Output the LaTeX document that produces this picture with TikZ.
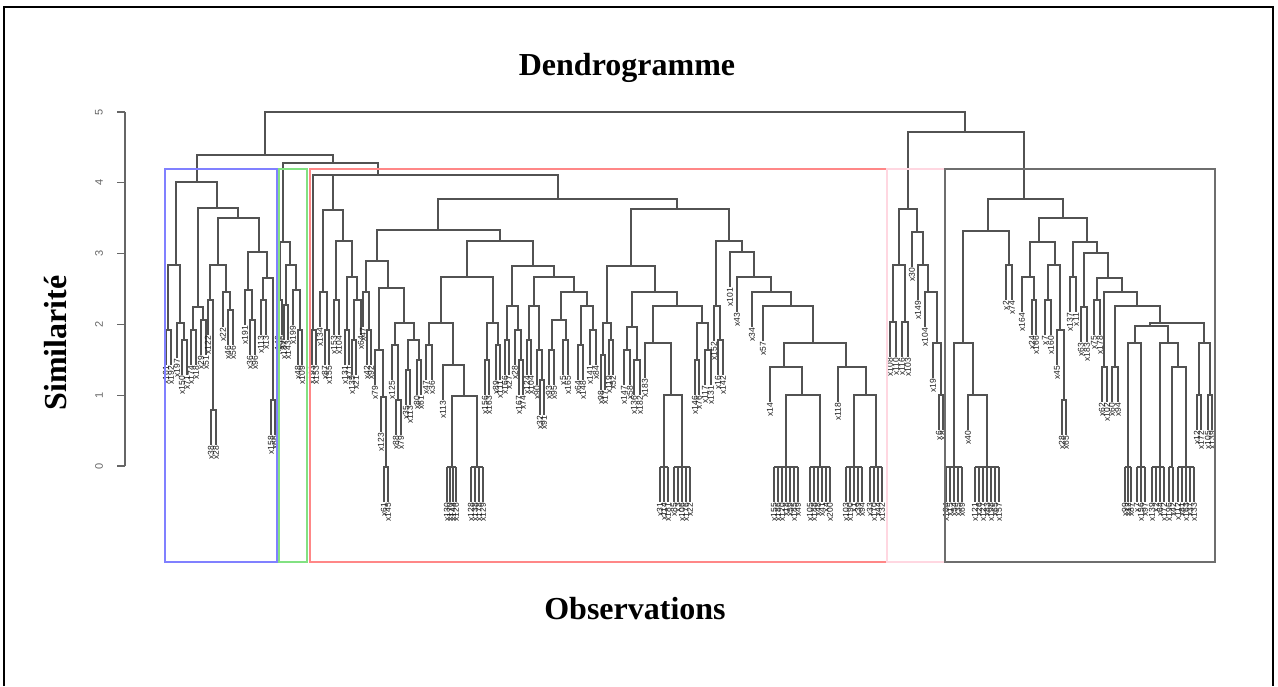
\documentclass[tikz,border=0pt]{standalone}
\usepackage{fontspec}
\setmainfont{Liberation Serif}
\newfontfamily\lsans{Liberation Sans}
\tikzset{
  dl/.style={draw=black!68,line width=1.05pt},
  lab/.style={rotate=90,anchor=east,font=\lsans\fontsize{8.5}{8.5}\selectfont,inner sep=0.6pt,text=black!90},
  ax/.style={draw=black!60,line width=1.1pt},
  axlab/.style={rotate=90,font=\lsans\fontsize{11}{11}\selectfont,text=black!60},
  ttl/.style={font=\bfseries\fontsize{32}{36}\selectfont},
  bx/.style={line width=1.8pt}
}
% xl yl xr yr y
\newcommand{\dU}[5]{\draw[dl] (#1,#2) -- (#1,#5) -- (#3,#5) -- (#3,#4);}
% xl xr y labl labr
\newcommand{\dLL}[5]{\draw[dl] (#1,#3+35) node[lab]{#4} -- (#1,#3) -- (#2,#3) -- (#2,#3+35) node[lab]{#5};}
% xl(leaf) xr(internal) yr y lab
\newcommand{\dLN}[5]{\draw[dl] (#1,#4+35) node[lab]{#5} -- (#1,#4) -- (#2,#4) -- (#2,#3);}
% xl yl xr(leaf) y lab
\newcommand{\dNL}[5]{\draw[dl] (#1,#2) -- (#1,#4) -- (#3,#4) -- (#3,#4+35) node[lab]{#5};}
% vertical x y1 y2
\newcommand{\dV}[3]{\draw[dl] (#1,#2) -- (#1,#3);}
% group of leaves at height 0: xmin xmax list x/label
\newcommand{\dZ}[3]{\draw[dl] (#1,467) -- (#2,467);
  \foreach \gx/\gl in {#3} {\draw[dl] (\gx,467) -- (\gx,502) node[lab]{\gl};}}
\begin{document}
\begin{tikzpicture}[x=1pt,y=-1pt]
\useasboundingbox (0,0) rectangle (1278,686);
% outer frame
\draw[line width=1.4pt] (4,686) -- (4,7) -- (1273,7) -- (1273,686);
% titles
\node[ttl] (title) at (627,68) {Dendrogramme};
\node[ttl] (xlab) at (635,609) {Observations};
\node[ttl,rotate=90] (ylab) at (56,343) {Similarité};
% axis
\draw[ax] (125,112) -- (125,466);
\foreach \v in {0,...,5} {
  \draw[ax] (125,466-70.8*\v) -- (117,466-70.8*\v);
  \node[axlab] (t\v) at (99,466-70.8*\v) {\v};
}
% ---------------- dendrogram ----------------
\dU{265}{155}{965}{132}{112}
\dU{197}{182}{333}{163}{155}
% blue cluster
\dU{176}{265}{217}{208}{182}
\dU{168}{330}{180}{323}{265}
\dLL{166}{171}{330}{x161}{x192}
\dLN{177}{184}{340}{323}{x197}
\dLL{182}{187}{340}{x150}{x71}
\dU{198}{307}{238}{218}{208}
\dU{193}{330}{203}{320}{307}
\dLL{191}{196}{330}{x174}{x18}
\dLL{201}{206}{320}{x29}{x51}
\dU{218}{265}{259}{252}{218}
\dU{210}{300}{226}{292}{265}
\dLN{208}{213}{410}{300}{x122}
\dLL{211}{216}{410}{x38}{x28}
\dLN{223}{230}{310}{292}{x22}
\dLL{228}{233}{310}{x46}{x56}
\dU{248}{290}{267}{278}{252}
\dLN{245}{252}{320}{290}{x191}
\dLL{250}{255}{320}{x36}{x96}
\dU{263}{300}{273}{400}{278}
\dLL{261}{266}{300}{x113}{x13}
\dLL{271}{275}{400}{x158}{x66}
% green cluster
\dU{283}{242}{378}{175}{163}
\dU{280}{300}{290}{265}{242}
\dLL{278}{282}{300}{x140}{x96}
\dU{286}{305}{296}{290}{265}
\dLL{284}{288}{305}{x187}{x143}
\dLN{293}{300}{330}{290}{x199}
\dLL{298}{302}{330}{x48}{x109}
% red cluster
\draw[dl] (313,330) -- (313,175) -- (558,175) -- (558,199);
\dV{333}{175}{210}
\dLL{312}{316}{330}{x193}{x153}
\dU{323}{292}{343}{241}{210}
\dLN{320}{327}{330}{292}{x134}
\dLL{325}{329}{330}{x87}{x155}
\dU{336}{300}{352}{277}{241}
\dLL{334}{339}{300}{x153}{x104}
\dU{347}{330}{357}{300}{277}
\dLL{345}{349}{330}{x131}{x71}
\dNL{354}{340}{361}{300}{x64}
\dLL{352}{356}{340}{x135}{x21}
\dU{438}{230}{677}{209}{199}
\dU{377}{261}{500}{241}{230}
\dU{366}{292}{388}{288}{261}
\dLN{363}{369}{330}{292}{x47}
\dLL{367}{371}{330}{x42}{x92}
\dU{379}{350}{404}{323}{288}
\dLN{375}{383}{397}{350}{x79}
\dLN{381}{386}{467}{397}{x123}
\dLL{384}{388}{467}{x61}{x145}
\dU{395}{345}{414}{340}{323}
\dLN{392}{398}{400}{345}{x125}
\dLL{396}{401}{400}{x88}{x79}
\dU{408}{370}{419}{360}{340}
\dLL{406}{410}{370}{x35}{x113}
\dLL{417}{421}{360}{x80}{x61}
\dU{467}{277}{533}{266}{241}
\dU{441}{323}{493}{323}{277}
\dU{429}{345}{453}{365}{323}
\dLL{426}{432}{345}{x47}{x36}
\dLN{443}{464}{396}{365}{x113}
\dU{452}{467}{477}{467}{396}
\dZ{447}{456}{447/x130,450/x170,453/x144,456/x126}
\dZ{471}{483}{471/x128,475/x138,479/x178,483/x129}
\dU{487}{360}{498}{345}{323}
\dLL{485}{489}{360}{x156}{x163}
\dLL{496}{500}{345}{x89}{x111}
\dU{512}{306}{554}{277}{266}
\dU{507}{340}{518}{330}{306}
\dLL{505}{509}{340}{x166}{x27}
\dLN{515}{521}{360}{330}{x28}
\dLL{519}{523}{360}{x167}{x74}
\dU{534}{306}{574}{292}{277}
\dU{529}{340}{539}{350}{306}
\dLL{527}{531}{340}{x124}{x104}
\dLN{537}{542}{380}{350}{x90}
\dLL{540}{544}{380}{x32}{x91}
\dU{561}{320}{587}{306}{292}
\dU{552}{350}{566}{340}{320}
\dLL{549}{554}{350}{x93}{x95}
\dLL{563}{568}{340}{x5}{x165}
\dU{581}{345}{593}{330}{306}
\dLL{578}{583}{345}{x64}{x148}
\dLL{590}{596}{330}{x141}{x84}
\dU{631}{266}{729}{241}{209}
\dU{607}{323}{655}{292}{266}
\dU{603}{355}{611}{340}{323}
\dLL{601}{605}{355}{x98}{x17}
\dLL{609}{613}{340}{x119}{x52}
\dU{632}{327}{677}{306}{292}
\dU{627}{350}{637}{360}{327}
\dLL{624}{630}{350}{x147}{x58}
\dLL{634}{640}{360}{x136}{x182}
\dU{653}{343}{702}{323}{306}
\dLN{645}{671}{395}{343}{x183}
\dU{664}{467}{682}{467}{395}
\dZ{660}{668}{660/x31,664/x114,668/x181}
\dZ{674}{690}{674/x85,678/x3,682/x106,686/x176,690/x22}
\dU{697}{360}{708}{350}{323}
\dLL{695}{699}{360}{x146}{x76}
\dLL{705}{711}{350}{x117}{x131}
\dU{716}{306}{742}{252}{241}
\dLN{714}{720}{340}{306}{x152}
\dLL{718}{723}{340}{x16}{x142}
\dLN{730}{754}{277}{252}{x101}
\dLN{737}{771}{292}{277}{x43}
\dLN{752}{791}{306}{292}{x34}
\dLN{763}{813}{343}{306}{x57}
\dU{784}{367}{846}{367}{343}
\dLN{770}{802}{395}{367}{x14}
\dU{786}{467}{820}{467}{395}
\dZ{774}{798}{774/x155,778/x186,782/x120,786/x18,790/x59,794/x185,798/x49}
\dZ{810}{830}{810/x105,814/x188,818/x48,822/x41,826/x4,830/x200}
\dLN{838}{866}{395}{367}{x118}
\dU{854}{467}{876}{467}{395}
\dZ{846}{862}{846/x103,850/x190,854/x1,858/x39,862/x94}
\dZ{870}{882}{870/x33,874/x170,878/x44,882/x132}
% right part
\dU{908}{209}{1024}{199}{132}
\dU{899}{265}{917}{232}{209}
\dU{893}{322}{905}{322}{265}
\dLL{890}{896}{322}{x108}{x110}
\dLL{902}{908}{322}{x116}{x103}
\dLN{912}{923}{265}{232}{x30}
\dLN{918}{928}{292}{265}{x149}
\dLN{925}{937}{343}{292}{x104}
\dLN{933}{941}{395}{343}{x19}
\dLL{939}{943}{395}{x6}{x8}
% dark cluster
\dU{988}{231}{1063}{218}{199}
\dU{963}{343}{1009}{265}{231}
\dU{954}{467}{973}{395}{343}
\dZ{946}{962}{946/x184,950/x15,954/x54,958/x35,962/x69}
\dLN{968}{987}{467}{395}{x40}
\dZ{975}{999}{975/x121,979/x26,983/x127,987/x83,991/x198,995/x65,999/x157}
\dLL{1006}{1012}{265}{x2}{x74}
\dU{1039}{242}{1087}{242}{218}
\dU{1030}{277}{1055}{265}{242}
\dLN{1022}{1034}{300}{277}{x164}
\dLL{1032}{1036}{300}{x24}{x166}
\dU{1048}{300}{1060}{330}{265}
\dLL{1045}{1051}{300}{x7}{x160}
\dLN{1057}{1064}{400}{330}{x45}
\dLL{1062}{1066}{400}{x28}{x65}
\dU{1073}{277}{1097}{253}{242}
\dLL{1070}{1076}{277}{x137}{x11}
\dU{1084}{307}{1108}{278}{253}
\dLL{1081}{1087}{307}{x63}{x183}
\dU{1097}{300}{1122}{292}{278}
\dLL{1094}{1100}{300}{x75}{x178}
\dU{1104}{367}{1137}{306}{292}
\dLL{1102}{1107}{367}{x62}{x102}
\dU{1115}{367}{1160}{323}{306}
\dLL{1112}{1118}{367}{x60}{x94}
\dU{1150}{326}{1204}{343}{323}
\dU{1135}{343}{1168}{343}{326}
\dU{1128}{395}{1141}{395}{343}
\dV{1128}{395}{467}
\dZ{1125}{1131}{1125/x99,1128/x12,1131/x87}
\dV{1141}{395}{467}
\dZ{1137}{1145}{1137/x7,1141/x156,1145/x97}
\dU{1160}{395}{1178}{367}{343}
\dV{1160}{395}{467}
\dZ{1152}{1164}{1152/x139,1156/x2,1160/x64,1164/x172}
\dU{1172}{395}{1186}{395}{367}
\dV{1172}{395}{467}
\dZ{1169}{1173}{1169/x196,1173/x42}
\dV{1186}{395}{467}
\dZ{1178}{1194}{1178/x112,1182/x81,1186/x163,1190/x37,1194/x133}
\dU{1199}{395}{1210}{395}{343}
\dLL{1197}{1201}{395}{x12}{x172}
\dLL{1208}{1212}{395}{x105}{x139}
% cluster boxes
\draw[bx,draw={rgb,255:red,128;green,128;blue,255}] (165,169) rectangle (277,562);
\draw[bx,draw={rgb,255:red,130;green,225;blue,130}] (279,169) rectangle (307,562);
\draw[bx,draw={rgb,255:red,255;green,135;blue,135}] (310,169) rectangle (887,562);
\draw[bx,draw={rgb,255:red,255;green,215;blue,225}] (887,169) rectangle (945,562);
\draw[bx,draw={rgb,255:red,110;green,110;blue,110}] (945,169) rectangle (1215,562);
\end{tikzpicture}
\end{document}
